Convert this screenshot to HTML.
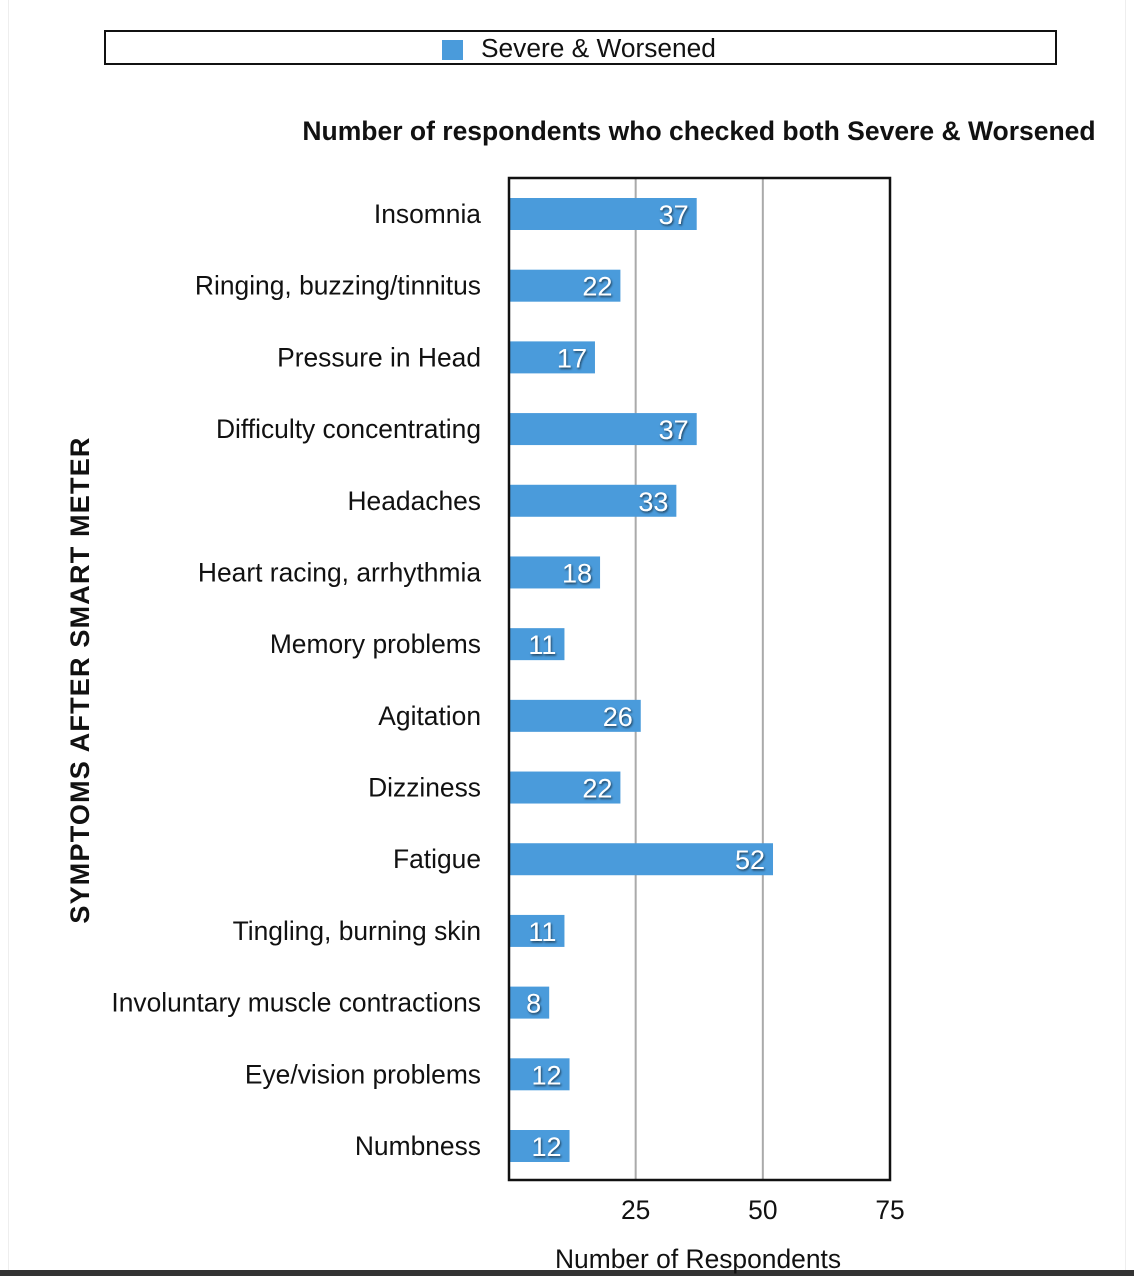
<!DOCTYPE html>
<html><head><meta charset="utf-8"><style>
html,body{margin:0;padding:0;background:#fff;}
body{width:1134px;height:1276px;position:relative;overflow:hidden;font-family:"Liberation Sans",Arial,sans-serif;}
</style></head><body>
<svg id="chart" width="1134" height="1276" xmlns="http://www.w3.org/2000/svg" style="position:absolute;left:0;top:0">
<defs><filter id="sh" x="-20%" y="-20%" width="140%" height="140%"><feDropShadow dx="1" dy="1.5" stdDeviation="1" flood-color="#000" flood-opacity="0.6"/></filter></defs>
<line x1="8.5" y1="0" x2="8.5" y2="1270" stroke="#eee"/>
<line x1="1125.5" y1="0" x2="1125.5" y2="1270" stroke="#eee"/>
<rect x="0" y="1270" width="1134" height="6" fill="#333"/>
<g>
<rect x="105" y="31" width="951" height="33" fill="#fff" stroke="#111" stroke-width="2"/>
<rect x="442" y="40" width="21" height="20" fill="#4a9bdb"/>
<text x="481" y="57" font-size="26.3" fill="#111">Severe &amp; Worsened</text>
</g>
<text x="699" y="140" font-size="26.5" font-weight="bold" text-anchor="middle" fill="#111">Number of respondents who checked both Severe &amp; Worsened</text>
<text transform="translate(89,680) rotate(-90)" font-size="27" letter-spacing="1.2" font-weight="bold" text-anchor="middle" fill="#111">SYMPTOMS  AFTER SMART METER</text>
<text x="698" y="1268" font-size="26.4" text-anchor="middle" fill="#111">Number of Respondents</text>
<g id="grid"></g><g id="bars"></g><g id="labels"></g><g id="ticks"></g>
<rect x="509" y="178" width="381" height="1002" fill="none" stroke="#111" stroke-width="2.5"/>
</svg>
<script>
const categories = ["Insomnia","Ringing, buzzing/tinnitus","Pressure in Head","Difficulty concentrating","Headaches","Heart racing, arrhythmia","Memory problems","Agitation","Dizziness","Fatigue","Tingling, burning skin","Involuntary muscle contractions","Eye/vision problems","Numbness"];
const values = [37,22,17,37,33,18,11,26,22,52,11,8,12,12];
const tickValues = [25,50,75];
const tickLabels = ["25","50","75"];

const NS="http://www.w3.org/2000/svg";
const x0=508.5, pxPer=(890-508.5)/75;
function xs(v){return x0+v*pxPer;}
function yc(i){return 214+i*((1146-214)/(categories.length-1));}
function mk(tag,attrs,parent){const e=document.createElementNS(NS,tag);for(const k in attrs)e.setAttribute(k,attrs[k]);document.getElementById(parent).appendChild(e);return e;}
tickValues.forEach((t,i)=>{
  if(t<75){const g=mk('line',{x1:xs(t),x2:xs(t),y1:178,y2:1180,stroke:'#aaa','stroke-width':2},'grid');
  
  }
  const tx=mk('text',{x:xs(t),y:1219,'font-size':26.4,'text-anchor':'middle',fill:'#111'},'ticks');
  tx.textContent=tickLabels[i];
  
  
});
categories.forEach((c,i)=>{
  const y=yc(i);
  const b=mk('rect',{x:509,y:y-16,width:xs(values[i])-509,height:32,fill:'#4a9bdb'},'bars');
  
  
  const v=mk('text',{x:xs(values[i])-8,y:y+10,'font-size':27,'text-anchor':'end',fill:'#fff',filter:'url(#sh)'},'labels');
  v.textContent=values[i];
  
  
  const l=mk('text',{x:481,y:y+9,'font-size':26.4,'text-anchor':'end',fill:'#111'},'labels');
  l.textContent=c;
  
  
});
</script>
</body></html>
